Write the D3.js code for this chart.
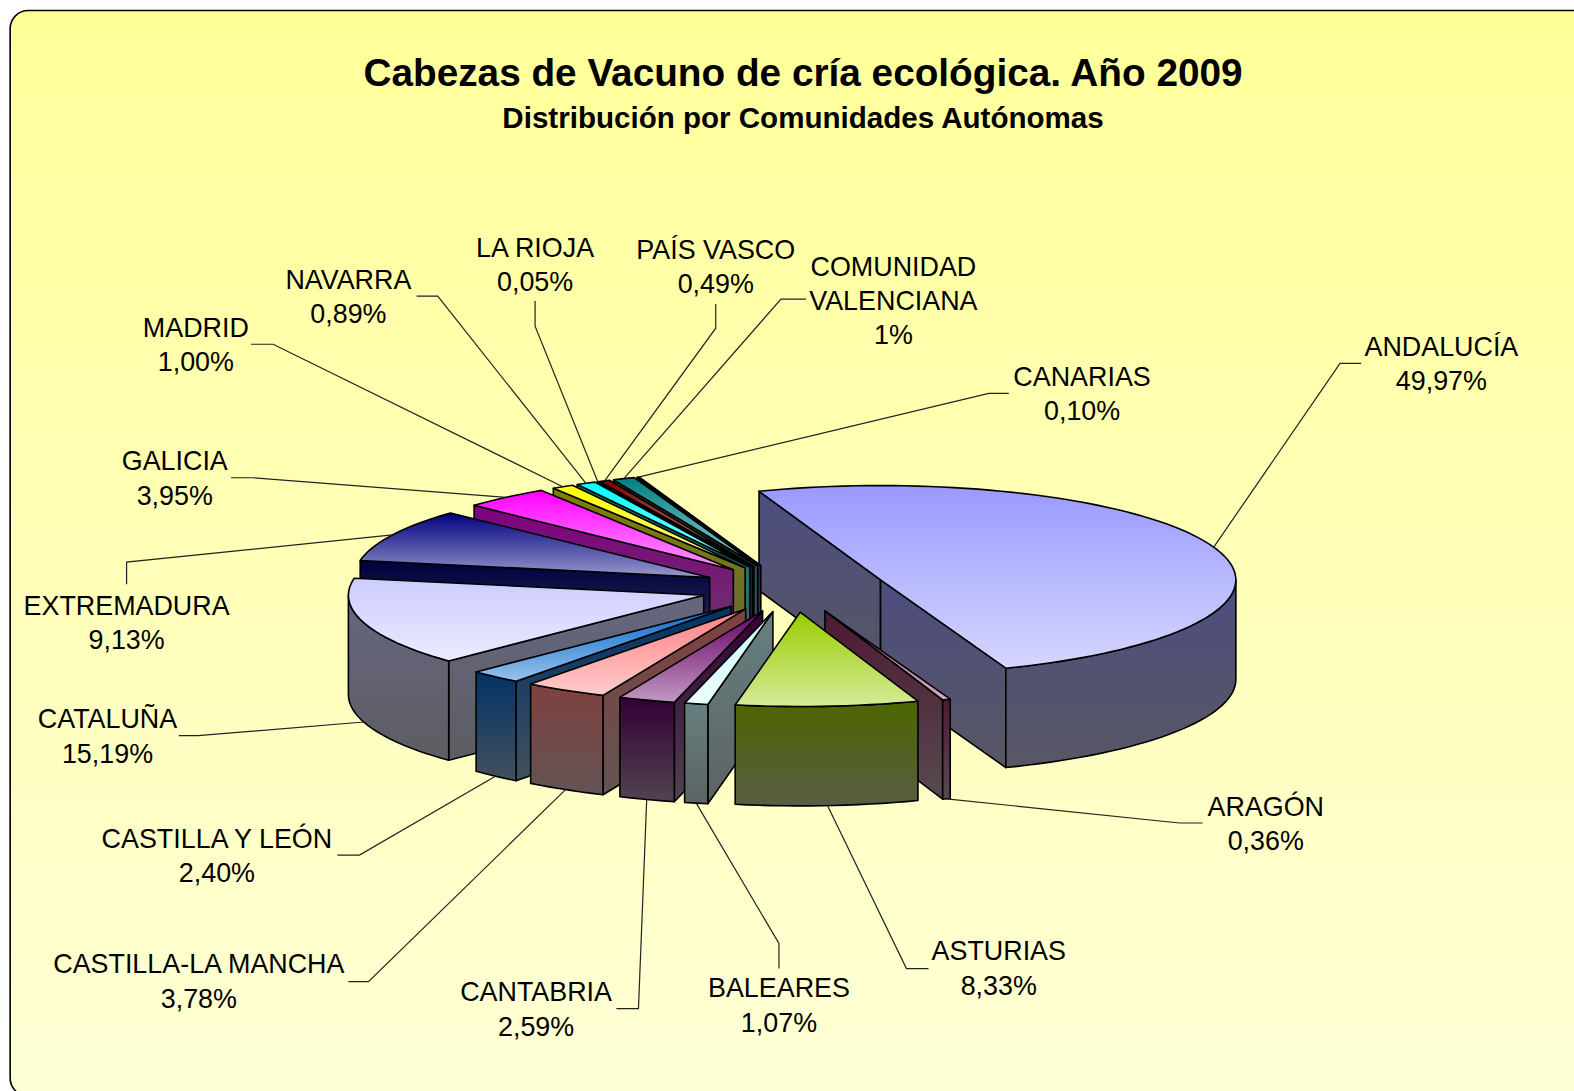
<!DOCTYPE html>
<html>
<head>
<meta charset="utf-8">
<script src="https://cdn.jsdelivr.net/npm/d3@7"></script>
<style>
  html, body { margin: 0; padding: 0; background: #fff; overflow: hidden; }
  text { font-family: "Liberation Sans", Arial, sans-serif; fill: #000; }
</style>
</head>
<body>
<div id="chart"></div>
<script>
// data, in the order the slices run clockwise
const regions = ["ANDALUCÍA", "ARAGÓN", "ASTURIAS", "BALEARES", "CANTABRIA", "CASTILLA-LA MANCHA",
  "CASTILLA Y LEÓN", "CATALUÑA", "EXTREMADURA", "GALICIA", "MADRID", "NAVARRA", "LA RIOJA",
  "PAÍS VASCO", "COMUNIDAD VALENCIANA", "CANARIAS"];
const shares = [49.97, 0.36, 8.33, 1.07, 2.59, 3.78, 2.40, 15.19, 9.13, 3.95, 1.00, 0.89, 0.05, 0.49, 1, 0.10];
const shareLabels = ["49,97%", "0,36%", "8,33%", "1,07%", "2,59%", "3,78%", "2,40%", "15,19%", "9,13%",
  "3,95%", "1,00%", "0,89%", "0,05%", "0,49%", "1%", "0,10%"];
const sliceColors = ["#9999FF", "#993366", "#99CC00", "#CCFFFF", "#660066", "#FF8080", "#0066CC", "#CCCCFF",
  "#000080", "#FF00FF", "#FFFF00", "#00FFFF", "#800080", "#800000", "#008080", "#0000FF"];

// label layout: text lines, centre x, y of first line, leader elbow and stub end
const labelLayout = [
  { lines: ["ANDALUCÍA"], x: 1436, y: 345, elbow: [1335, 362], end: [1356, 362] },
  { lines: ["ARAGÓN"], x: 1261, y: 803, elbow: [1175, 820], end: [1198, 820] },
  { lines: ["ASTURIAS"], x: 995, y: 947, elbow: [903, 965], end: [925, 965] },
  { lines: ["BALEARES"], x: 776, y: 984, elbow: [776, 940], end: [776, 965] },
  { lines: ["CANTABRIA"], x: 534, y: 988, elbow: [636, 1005], end: [614, 1005] },
  { lines: ["CASTILLA-LA MANCHA"], x: 198, y: 960, elbow: [367, 978], end: [347, 978] },
  { lines: ["CASTILLA Y LEÓN"], x: 216, y: 835, elbow: [358, 852], end: [336, 852] },
  { lines: ["CATALUÑA"], x: 107, y: 716, elbow: [197, 733], end: [178, 733] },
  { lines: ["EXTREMADURA"], x: 126, y: 603, elbow: [126, 560], end: [126, 582] },
  { lines: ["GALICIA"], x: 174, y: 459, elbow: [252, 476], end: [230, 476] },
  { lines: ["MADRID"], x: 195, y: 326, elbow: [272, 343], end: [250, 343] },
  { lines: ["NAVARRA"], x: 347, y: 278, elbow: [436, 295], end: [415, 295] },
  { lines: ["LA RIOJA"], x: 533, y: 246, elbow: [533, 325], end: [533, 300] },
  { lines: ["PAÍS VASCO"], x: 713, y: 248, elbow: [713, 327], end: [713, 303] },
  { lines: ["COMUNIDAD", "VALENCIANA"], x: 890, y: 265, elbow: [778, 298], end: [803, 298] },
  { lines: ["CANARIAS"], x: 1078, y: 375, elbow: [985, 392], end: [1005, 392] }
];

// painter's order, back to front
const drawOrder = [0, 15, 14, 13, 12, 11, 10, 9, 8, 7, 6, 5, 4, 3, 1, 2];

const width = 1568, height = 1087;
const cx = 790, cy = 586.1;        // pie centre before explosion
const rx = 354, ry = 94;           // ellipse of the tilted rim
const explodeX = 93, explodeY = 23.9;
const depth = 99;
const toRad = Math.PI / 180;

const svg = d3.select("#chart").append("svg")
  .attr("width", 1574)
  .attr("height", 1091)
  .attr("viewBox", `0 0 ${width} ${height}`)
  .style("display", "block");

const defs = svg.append("defs");

const bg = defs.append("linearGradient").attr("id", "bg").attr("x1", 0).attr("y1", 0).attr("x2", 0).attr("y2", 1);
bg.append("stop").attr("offset", "0%").attr("stop-color", "#FFFF99");
bg.append("stop").attr("offset", "100%").attr("stop-color", "#FFFFD6");

function gradient(id, from, to) {
  const g = defs.append("linearGradient").attr("id", id).attr("x1", 0).attr("y1", 0).attr("x2", 0).attr("y2", 1);
  g.append("stop").attr("offset", "0%").attr("stop-color", from);
  g.append("stop").attr("offset", "100%").attr("stop-color", to);
}

sliceColors.forEach((c, i) => {
  const base = d3.color(c);
  gradient(`top${i}`, c, d3.interpolateRgb(c, "#fff")(0.6));
  const dark = d3.rgb(base.r * 0.5, base.g * 0.5, base.b * 0.5);
  gradient(`side${i}`, dark.formatHex(), d3.interpolateRgb(dark, "#5a5a5a")(0.75));
});

svg.append("rect")
  .attr("x", 10).attr("y", 10.5)
  .attr("width", 1620).attr("height", 1081.5)
  .attr("rx", 18).attr("ry", 18)
  .attr("fill", "url(#bg)")
  .attr("stroke", "#000")
  .attr("stroke-width", 1.6);

svg.append("text")
  .attr("x", 800).attr("y", 86)
  .attr("text-anchor", "middle")
  .attr("font-weight", "bold")
  .attr("font-size", 38.6)
  .text("Cabezas de Vacuno de cría ecológica. Año 2009");

svg.append("text")
  .attr("x", 800).attr("y", 128)
  .attr("text-anchor", "middle")
  .attr("font-weight", "bold")
  .attr("font-size", 29.45)
  .text("Distribución por Comunidades Autónomas");

const pie = d3.pie()
  .sort(null)
  .startAngle(340 * toRad)
  .endAngle((340 + 360) * toRad);

const arcs = pie(shares);
const line = d3.line();

// apex of a slice after it is pulled out along its middle angle
function apexOf(a) {
  const mid = (a.startAngle + a.endAngle) / 2;
  return [cx + explodeX * Math.sin(mid), cy - explodeY * Math.cos(mid)];
}

function rimPoint(apex, angle, drop = 0) {
  return [apex[0] + rx * Math.sin(angle), apex[1] - ry * Math.cos(angle) + drop];
}

function rimPoints(apex, from, to, drop = 0) {
  const n = Math.max(2, Math.ceil(Math.abs(to - from) / (2 * toRad)));
  return d3.range(n + 1).map(k => rimPoint(apex, from + (to - from) * k / n, drop));
}

// visible part of the outer wall, angles in [90deg, 270deg] shifted by whole turns
function wallRange(a) {
  for (const turn of [0, 360, -360]) {
    const lo = Math.max(a.startAngle, (90 + turn) * toRad);
    const hi = Math.min(a.endAngle, (270 + turn) * toRad);
    if (hi > lo) return [lo, hi];
  }
  return null;
}

const slices = svg.append("g").selectAll("g")
  .data(drawOrder)
  .join("g")
  .attr("stroke", "#000")
  .attr("stroke-width", 1.6)
  .attr("stroke-linejoin", "round");

slices.each(function (i) {
  const g = d3.select(this);
  const a = arcs[i];
  const apex = apexOf(a);
  const apexLow = [apex[0], apex[1] + depth];

  // cut faces: the start face shows on the left half, the end face on the right half
  const faces = [];
  if (Math.sin(a.startAngle) < 0) faces.push(a.startAngle);
  if (Math.sin(a.endAngle) > 0) faces.push(a.endAngle);
  faces.forEach(angle => {
    g.append("path")
      .attr("d", line([apex, rimPoint(apex, angle), rimPoint(apex, angle, depth), apexLow]) + "Z")
      .attr("fill", `url(#side${i})`);
  });

  const wall = wallRange(a);
  if (wall) {
    const upper = rimPoints(apex, wall[0], wall[1]);
    const lower = rimPoints(apex, wall[1], wall[0], depth);
    g.append("path")
      .attr("d", line(upper.concat(lower)) + "Z")
      .attr("fill", `url(#side${i})`);
  }

  g.append("path")
    .attr("d", line([apex].concat(rimPoints(apex, a.startAngle, a.endAngle))) + "Z")
    .attr("fill", `url(#top${i})`);
});

// leaders, from the rim (or the foot of the wall) out to the label
svg.append("g").selectAll("path")
  .data(labelLayout)
  .join("path")
  .attr("fill", "none")
  .attr("stroke", "#222")
  .attr("stroke-width", 1.2)
  .attr("d", (d, i) => {
    const a = arcs[i];
    const mid = (a.startAngle + a.endAngle) / 2;
    const drop = Math.cos(mid) < 0 ? depth : 0;
    return line([rimPoint(apexOf(a), mid, drop), d.elbow, d.end]);
  });

const labels = svg.append("g").selectAll("text")
  .data(labelLayout)
  .join("text")
  .attr("text-anchor", "middle")
  .attr("font-size", 26.8);

labels.each(function (d, i) {
  const t = d3.select(this);
  d.lines.concat(shareLabels[i]).forEach((s, k) => {
    t.append("tspan")
      .attr("x", d.x)
      .attr("y", d.y + 9.6 + k * 34.3)
      .text(s);
  });
});
</script>
</body>
</html>
